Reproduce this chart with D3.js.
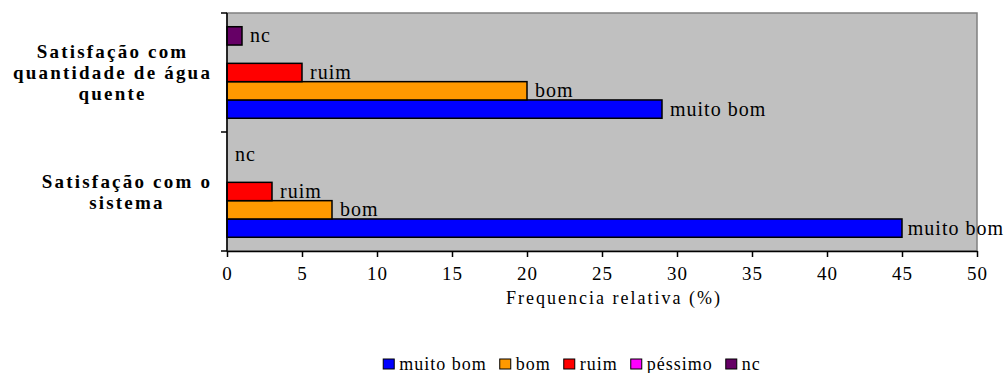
<!DOCTYPE html>
<html>
<head>
<meta charset="utf-8">
<script src="https://cdn.jsdelivr.net/npm/d3@7"></script>
<style>
  html, body { margin: 0; padding: 0; background: #fff; }
  svg { display: block; }
  svg text { font-family: "Liberation Serif", "DejaVu Serif", "Times New Roman", serif; }
</style>
</head>
<body>
<svg id="chart" width="1005" height="373"></svg>
<script>
// Survey answers, relative frequency (%) per question
const categories = [
  "Satisfação com quantidade de água quente",
  "Satisfação com o sistema"
];
const categoryLines = [
  ["Satisfação com", "quantidade de água", "quente"],
  ["Satisfação com o", "sistema"]
];
const seriesNames = ["muito bom", "bom", "ruim", "péssimo", "nc"];
const muitoBom = [29, 45];
const bom = [20, 7];
const ruim = [5, 3];
const pessimo = [null, null];
const nc = [1, 0];
const xTicks = [0, 5, 10, 15, 20, 25, 30, 35, 40, 45, 50];
const xTitle = "Frequencia relativa (%)";

const seriesValues = [muitoBom, bom, ruim, pessimo, nc];
const colors = ["#0000FF", "#FF9900", "#FF0000", "#FF00FF", "#660066"];

const svg = d3.select("#chart");
const plot = { left: 227, right: 977, top: 13, bottom: 251 };

const x = d3.scaleLinear().domain([0, 50]).range([plot.left, plot.right]);
const y = d3.scaleBand().domain(categories).range([plot.top, plot.bottom]);
// first series sits at the bottom of each group
const inner = d3.scaleBand()
  .domain(seriesNames.slice().reverse())
  .range([0, y.bandwidth()])
  .paddingInner(0)
  .paddingOuter(0.75);

// plot area
svg.append("rect")
  .attr("x", plot.left).attr("y", plot.top)
  .attr("width", plot.right - plot.left).attr("height", plot.bottom - plot.top)
  .attr("fill", "#C0C0C0").attr("stroke", "#808080").attr("stroke-width", 1.5);

// bars
const bars = [];
categories.forEach((c, ci) => {
  seriesNames.forEach((s, si) => {
    const v = seriesValues[si][ci];
    if (v === null) return;
    bars.push({ category: c, series: s, value: v, color: colors[si] });
  });
});

svg.append("g").selectAll("rect")
  .data(bars.filter(d => d.value > 0))
  .join("rect")
  .attr("x", x(0))
  .attr("y", d => y(d.category) + inner(d.series))
  .attr("width", d => x(d.value) - x(0))
  .attr("height", inner.bandwidth())
  .attr("fill", d => d.color)
  .attr("stroke", "#000")
  .attr("stroke-width", 1.5);

// series labels at bar ends
svg.append("g").selectAll("text")
  .data(bars)
  .join("text")
  .attr("x", d => x(d.value) + 8)
  .attr("y", d => y(d.category) + inner(d.series) + inner.bandwidth() / 2)
  .attr("dy", "0.33em")
  .attr("font-size", 20)
  .style("letter-spacing", "1px")
  .attr("fill", "#000")
  .text(d => d.series)
  .each(function () {
    const w = this.getComputedTextLength();
    const cx = +this.getAttribute("x");
    if (cx + w > 1004) this.setAttribute("x", 1004 - w);
  });

// y axis line and group separators
const yg = svg.append("g").attr("transform", `translate(${plot.left},0)`);
const yBounds = [plot.top, ...categories.slice(1).map(c => y(c)), plot.bottom];
yg.selectAll("line.sep").data(yBounds).join("line")
  .attr("x1", -6).attr("x2", 0).attr("y1", d => d).attr("y2", d => d)
  .attr("stroke", "#000").attr("stroke-width", 1.5);
yg.append("line").attr("x1", 0).attr("x2", 0)
  .attr("y1", plot.top).attr("y2", plot.bottom)
  .attr("stroke", "#000").attr("stroke-width", 1.5);

// category labels, centred lines within a right-aligned block
categories.forEach((c, ci) => {
  const lines = categoryLines[ci];
  const g = svg.append("g");
  const lh = 21;
  const cy = y(c) + y.bandwidth() / 2;
  const texts = lines.map((ln, i) => g.append("text")
    .attr("y", cy + (i - (lines.length - 1) / 2) * lh)
    .attr("dy", "0.35em")
    .attr("text-anchor", "middle")
    .attr("font-weight", "bold")
    .attr("font-size", 19)
    .style("letter-spacing", "2.2px")
    .text(ln));
  const widths = texts.map(t => t.node().getComputedTextLength());
  const maxW = d3.max(widths);
  const centre = 211 - maxW / 2;
  texts.forEach(t => t.attr("x", centre + 1.1));
});

// x axis
const xAxis = d3.axisBottom(x).tickValues(xTicks).tickSize(6).tickSizeOuter(0).tickPadding(10);
const xg = svg.append("g").attr("transform", `translate(0,${plot.bottom})`).call(xAxis);
xg.attr("font-family", null);
xg.select(".domain").attr("stroke", "#000").attr("stroke-width", 1.5);
xg.selectAll(".tick line").attr("stroke", "#000").attr("stroke-width", 1.5);
xg.selectAll(".tick text")
  .attr("font-size", 19)
  .style("letter-spacing", "1px")
  .attr("fill", "#000");

svg.append("text")
  .attr("x", 614).attr("y", 304)
  .attr("text-anchor", "middle")
  .attr("font-size", 18)
  .style("letter-spacing", "2px")
  .text(xTitle);

// legend
const legend = svg.append("g");
let lx = 0;
seriesNames.forEach((s, i) => {
  const g = legend.append("g").attr("transform", `translate(${lx},0)`);
  g.append("rect").attr("x", 0).attr("y", -5).attr("width", 11).attr("height", 10)
    .attr("fill", colors[i]).attr("stroke", "#000").attr("stroke-width", 1);
  const t = g.append("text").attr("x", 16).attr("dy", "0.35em")
    .attr("font-size", 18).style("letter-spacing", "1px").text(s);
  lx += 16 + t.node().getComputedTextLength() + 13;
});
const legendW = lx - 13;
legend.attr("transform", `translate(${(381 + 763) / 2 - legendW / 2},364)`);
</script>
</body>
</html>
